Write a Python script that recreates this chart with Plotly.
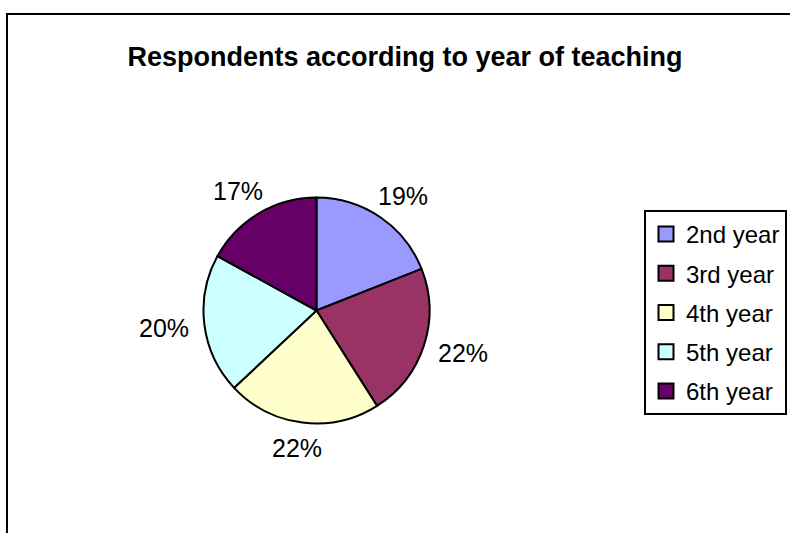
import math
import plotly.graph_objects as go

categories = ["2nd year", "3rd year", "4th year", "5th year", "6th year"]
values = [19, 22, 22, 20, 17]
colors = ["#9999FF", "#993366", "#FFFFCC", "#CCFFFF", "#660066"]
title_text = "Respondents according to year of teaching"

W, H = 790, 533
FONT = "Arial, Liberation Sans, sans-serif"

# pie geometry (pixels)
cx, cy, r = 316.5, 310.5, 113.0
gap, half_w, half_h = 14.0, 27.0, 12.0

fig = go.Figure()
fig.add_trace(go.Pie(
    labels=categories,
    values=values,
    sort=False,
    direction="clockwise",
    rotation=0,
    marker=dict(colors=colors, line=dict(color="black", width=2)),
    textinfo="none",
    showlegend=False,
    domain=dict(x=[(cx - r) / W, (cx + r) / W], y=[(H - cy - r) / H, (H - cy + r) / H]),
    hoverinfo="label+percent",
))

# legend entries (one group each, so the row spacing can be set)
for name, col in zip(categories, colors):
    fig.add_trace(go.Scatter(
        x=[None], y=[None], mode="markers", name=name,
        legendgroup=name, showlegend=True,
        marker=dict(symbol="square", size=15, color=col, line=dict(color="black", width=2)),
    ))

# percentage labels outside each slice, placed from the data
total = sum(values)
annotations = []
cum = 0.0
for v in values:
    mid = (cum + v / 2) / total * 2 * math.pi
    cum += v
    ux, uy = math.sin(mid), -math.cos(mid)
    px = cx + (r + gap) * ux + half_w * ux
    py = cy + (r + gap) * uy + half_h * uy
    annotations.append(dict(
        x=px / W, y=1 - py / H, xref="paper", yref="paper",
        text=f"{v / total:.0%}", showarrow=False,
        xanchor="center", yanchor="middle",
        font=dict(family=FONT, size=25, color="black"),
    ))

fig.update_layout(
    width=W, height=H,
    margin=dict(l=0, r=0, t=0, b=0),
    paper_bgcolor="white",
    plot_bgcolor="white",
    xaxis=dict(visible=False),
    yaxis=dict(visible=False),
    title=dict(text="<b>" + title_text + "</b>", x=405 / W, xanchor="center",
               y=1 - 57 / H, yanchor="middle", yref="container",
               font=dict(family=FONT, size=27, color="black")),
    legend=dict(x=644 / W, xanchor="left", y=1 - 210 / H, yanchor="top",
                bordercolor="black", borderwidth=2, bgcolor="white",
                font=dict(family=FONT, size=24, color="black"),
                itemwidth=30, tracegroupgap=5, traceorder="grouped"),
    annotations=annotations,
    shapes=[dict(type="rect", xref="paper", yref="paper",
                 x0=7 / W, x1=1.05, y0=-0.05, y1=1 - 14 / H,
                 line=dict(color="black", width=2), layer="below")],
)

fig.write_html("out.html", config={"displayModeBar": False},
               post_script="document.body.style.margin='0';")
